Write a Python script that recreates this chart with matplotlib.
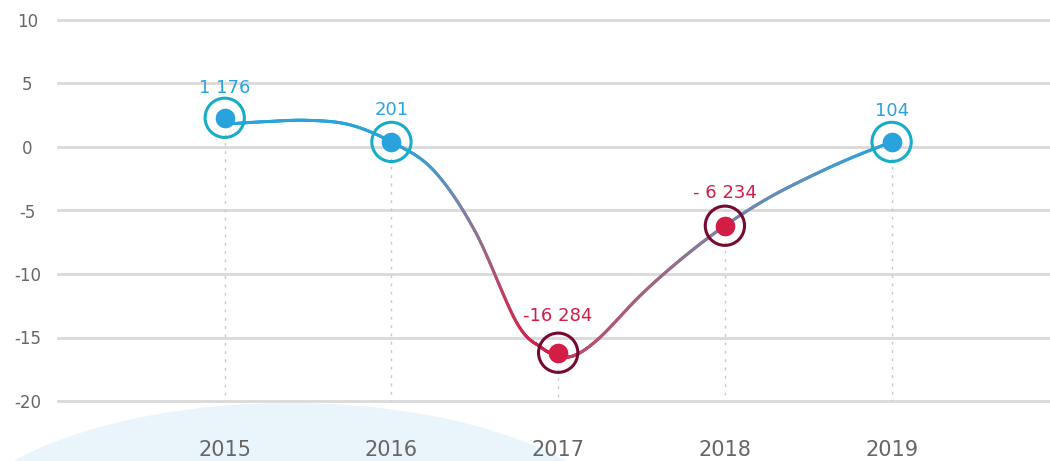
import numpy as np
import matplotlib
matplotlib.use("Agg")
import matplotlib.pyplot as plt
from matplotlib.collections import LineCollection
from matplotlib.patches import Ellipse
from matplotlib.colors import LinearSegmentedColormap

# ---- data ----
years = [2015, 2016, 2017, 2018, 2019]
point_values = [2.3, 0.4, -16.2, -6.2, 0.4]
point_labels = ["1 176", "201", "-16 284", "- 6 234", "104"]
point_kind = ["pos", "pos", "neg", "neg", "pos"]

# smoothed trend curve nodes
curve_x = [2015, 2015.25, 2015.5, 2015.75, 2016, 2016.25, 2016.5, 2016.75,
           2016.9, 2017, 2017.1, 2017.25, 2017.5, 2017.75, 2018, 2018.25,
           2018.5, 2018.75, 2019]
curve_y = [1.8, 2.0, 2.1, 1.75, 0.4, -1.8, -6.6, -13.8,
           -15.8, -16.4, -16.4, -15.0, -11.6, -8.7, -6.2, -4.1,
           -2.4, -0.9, 0.4]

y_ticks = [10, 5, 0, -5, -10, -15, -20]

W, H, DPI = 1050, 461, 100
fig = plt.figure(figsize=(W / DPI, H / DPI), dpi=DPI)
fig.patch.set_facecolor("white")

# decorative ellipse at the bottom
ell = Ellipse((290 / W, 1 - 553 / H), 700 / W, 300 / H,
              transform=fig.transFigure, facecolor="#eaf4fb",
              edgecolor="none", zorder=-5)
fig.patches.append(ell)

ax = fig.add_axes([58 / W, 1 - 401 / H, (1050 - 58) / W, (401 - 20) / H])
ax.set_zorder(2)
ax.set_facecolor("none")
ax.set_xlim(2014.0, 2019.95)
ax.set_ylim(-20, 10)
for sp in ax.spines.values():
    sp.set_visible(False)

for t in y_ticks:
    ax.axhline(t, color="#d9d9d9", lw=2, zorder=1, clip_on=False)

ax.set_yticks(y_ticks)
ax.set_yticklabels([str(t) for t in y_ticks], fontsize=12, color="#666666",
                   ha="center")
ax.tick_params(axis="y", length=0, pad=22)
ax.set_xticks(years)
ax.set_xticklabels([str(y) for y in years], fontsize=15, color="#666666")
ax.tick_params(axis="x", length=0, pad=28)


def catmull_rom(xs, ys, n=40):
    xs = np.asarray(xs, float)
    ys = np.asarray(ys, float)
    P = np.column_stack([xs, ys])
    P = np.vstack([2 * P[0] - P[1], P, 2 * P[-1] - P[-2]])
    out = []
    for i in range(1, len(P) - 2):
        p0, p1, p2, p3 = P[i - 1], P[i], P[i + 1], P[i + 2]
        t = np.linspace(0, 1, n, endpoint=False)[:, None]
        seg = 0.5 * ((2 * p1) + (-p0 + p2) * t +
                     (2 * p0 - 5 * p1 + 4 * p2 - p3) * t ** 2 +
                     (-p0 + 3 * p1 - 3 * p2 + p3) * t ** 3)
        out.append(seg)
    out.append(P[-2][None, :])
    return np.vstack(out)


pts = catmull_rom(curve_x, curve_y)
segs = np.stack([pts[:-1], pts[1:]], axis=1)
mid_y = (pts[:-1, 1] + pts[1:, 1]) / 2
mid_x = (pts[:-1, 0] + pts[1:, 0]) / 2

cmap_fall = LinearSegmentedColormap.from_list(
    "fall",
    [(0.0, "#d21f45"), (0.27, "#c03a5c"), (0.52, "#9a6a8a"),
     (0.76, "#7088b0"), (0.92, "#4598cc"), (1.0, "#2aa3dc")])
cmap_rise = LinearSegmentedColormap.from_list(
    "rise",
    [(0.0, "#b8506a"), (0.3, "#a86078"), (0.6, "#7f80a2"),
     (0.85, "#5a92c0"), (1.0, "#2aa3dc")])
s = np.clip((mid_y + 16.5) / 16.5, 0, 1)
w = np.clip((mid_x - 2017.0) / 0.15, 0, 1)[:, None]
cols = cmap_fall(s) * (1 - w) + cmap_rise(s) * w
lc = LineCollection(segs, colors=cols, linewidths=2.2, zorder=3,
                    capstyle="round")
ax.add_collection(lc)

# dotted drop lines
for x, v in zip(years, point_values):
    ax.plot([x, x], [v - 1.3, -20], color="#c8c8c8", lw=1,
            linestyle=(0, (2, 4)), zorder=2)

colors = {"pos": ("#2aa3dc", "#17acc8"), "neg": ("#d21d44", "#750b31")}
offsets = [30, 32, 37, 33, 31]
for x, v, lab, k, off in zip(years, point_values, point_labels, point_kind,
                             offsets):
    dot, ring = colors[k]
    ax.scatter([x], [v], s=200, color=dot, zorder=5, linewidths=0)
    ax.scatter([x], [v], s=800, facecolor="none", edgecolor=ring,
               linewidths=2.2, zorder=5)
    ax.annotate(lab, (x, v), xytext=(0, off), textcoords="offset pixels",
                ha="center", va="center", fontsize=13, color=dot, zorder=6)

fig.savefig("out.png", dpi=DPI, facecolor="white")
